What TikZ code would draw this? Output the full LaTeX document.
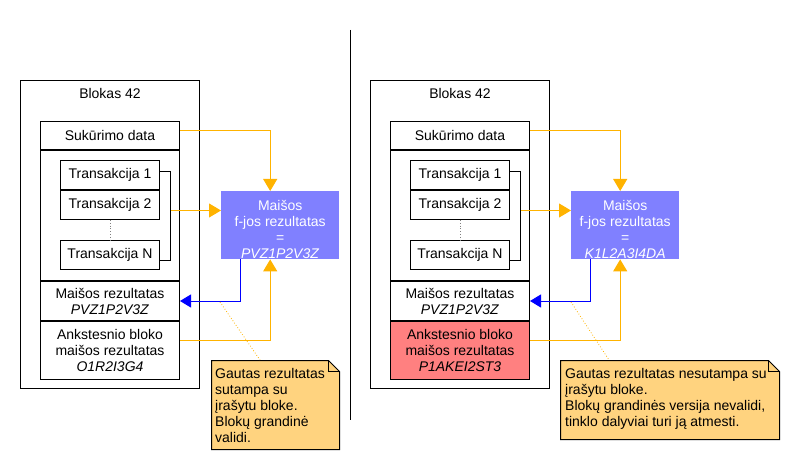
\documentclass[tikz,border=0pt]{standalone}
\usepackage{fontspec}
\setmainfont{Liberation Sans}
\usetikzlibrary{arrows.meta,calc,backgrounds}
\definecolor{oline}{HTML}{FFB300}
\definecolor{hashfill}{HTML}{8080FF}
\definecolor{notefill}{HTML}{FFD37F}
\definecolor{badfill}{HTML}{FF8080}
\newcommand{\toppad}{\rule{0pt}{18pt}}
\begin{document}
\begin{tikzpicture}[x=1pt,y=-1pt,
  font=\fontsize{14pt}{16pt}\selectfont,
  box/.style={draw, line width=1pt, fill=white, inner sep=0pt, anchor=north west, align=center},
  hashbox/.style={fill=hashfill, text=white, inner sep=0pt, anchor=north west, align=center},
  oarrow/.style={draw=oline, line width=1pt, -{Triangle[length=12pt,width=14pt]}},
  barrow/.style={draw=blue, line width=1pt, -{Triangle[length=11pt,width=13pt]}},
  bracket/.style={draw, line width=1pt},
  gapline/.style={draw=gray, line width=0.8pt, dotted},
  noteline/.style={draw=oline, line width=0.8pt, dotted},
  noteshape/.style={draw, line width=1pt, fill=notefill},
  notetext/.style={inner sep=0pt, anchor=north west, align=left},
  sep/.style={draw, line width=1pt}
]
\useasboundingbox (0,0) rectangle (800,470);

% separator
\coordinate (S1) at (350.5,30);
\coordinate (S2) at (350.5,420);
\draw[sep] (S1) -- (S2);

% ================= LEFT PANEL =================
\node[box, minimum width=179pt, minimum height=308pt] (LB) at (20,80) {};
\node (Ltitle) at (110,93) {Blokas 42};
\node[box, minimum width=139pt, minimum height=28pt] (LSuk) at (40,121) {Sukūrimo data};
\node[box, minimum width=139pt, minimum height=130pt] (LCon) at (40,150) {};
\node[box, minimum width=99pt, minimum height=29pt] (LT1) at (60,160) {Transakcija 1};
\node[box, minimum width=99pt, minimum height=29pt] (LT2) at (60,190) {Transakcija 2};
\node[box, minimum width=99pt, minimum height=29pt] (LTN) at (60,240) {Transakcija N};
\node[box, minimum width=139pt, minimum height=39pt] (LMai) at (40,281) {Maišos rezultatas\\\textit{PVZ1P2V3Z}};
\node[box, minimum width=139pt, minimum height=58pt] (LAnk) at (40,321) {Ankstesnio bloko\\maišos rezultatas\\\textit{O1R2I3G4}};
\node[hashbox, minimum width=118pt, minimum height=68pt] (LHash) at (221,191) {\toppad Maišos\\f-jos rezultatas\\=\\\textit{PVZ1P2V3Z}};

\draw[gapline] (LT2.south) -- (LTN.north);
\coordinate (LBr) at (170.5,210.5);
\draw[bracket] (LT1.east |- 0,171.5) -| (LBr) |- (LTN.east |- 0,260.5);
\draw[oarrow] (LBr) -- (LHash.west |- LBr);
\draw[oarrow] ([yshift=5pt]LSuk.east) -| ([xshift=-10pt]LHash.north);
\draw[oarrow] ([yshift=10pt]LAnk.east) -| ([xshift=-10pt]LHash.south);
\draw[barrow] ([xshift=-40pt]LHash.south) |- (LMai.east);

% note left
\coordinate (LNtl) at (211.5,360.5);
\coordinate (LNbr) at (339.5,449.5);
\draw[noteshape] (LNtl) -- ($(LNtl -| LNbr)+(-11,0)$) -- ($(LNtl -| LNbr)+(0,11)$) -- (LNbr) -- (LNtl |- LNbr) -- cycle;
\draw[line width=0.8pt] ($(LNtl -| LNbr)+(-11,0)$) -- ($(LNtl -| LNbr)+(-11,11)$) -- ($(LNtl -| LNbr)+(0,11)$);
\node[notetext] (LNote) at (215,368) {Gautas rezultatas\\sutampa su\\įrašytu bloke.\\Blokų grandinė\\validi.};
\coordinate (LDot) at (220,302);
\draw[noteline] (LDot) -- (260,360);

% ================= RIGHT PANEL =================
\node[box, minimum width=179pt, minimum height=308pt] (RB) at (370,80) {};
\node (Rtitle) at (460,93) {Blokas 42};
\node[box, minimum width=139pt, minimum height=28pt] (RSuk) at (390,121) {Sukūrimo data};
\node[box, minimum width=139pt, minimum height=130pt] (RCon) at (390,150) {};
\node[box, minimum width=99pt, minimum height=29pt] (RT1) at (410,160) {Transakcija 1};
\node[box, minimum width=99pt, minimum height=29pt] (RT2) at (410,190) {Transakcija 2};
\node[box, minimum width=99pt, minimum height=29pt] (RTN) at (410,240) {Transakcija N};
\node[box, minimum width=139pt, minimum height=39pt] (RMai) at (390,281) {Maišos rezultatas\\\textit{PVZ1P2V3Z}};
\node[box, fill=badfill, minimum width=139pt, minimum height=58pt] (RAnk) at (390,321) {Ankstesnio bloko\\maišos rezultatas\\\textit{P1AKEI2ST3}};
\node[hashbox, minimum width=108pt, minimum height=68pt] (RHash) at (571,191) {\toppad Maišos\\f-jos rezultatas\\=\\\textit{K1L2A3I4DA}};

\draw[gapline] (RT2.south) -- (RTN.north);
\coordinate (RBr) at (520.5,210.5);
\draw[bracket] (RT1.east |- 0,171.5) -| (RBr) |- (RTN.east |- 0,260.5);
\draw[oarrow] (RBr) -- (RHash.west |- RBr);
\draw[oarrow] ([yshift=5pt]RSuk.east) -| ([xshift=-5pt]RHash.north);
\draw[oarrow] ([yshift=10pt]RAnk.east) -| ([xshift=-5pt]RHash.south);
\draw[barrow] ([xshift=-35pt]RHash.south) |- (RMai.east);

% note right
\coordinate (RNtl) at (560.5,360.5);
\coordinate (RNbr) at (779.5,439.5);
\draw[noteshape] (RNtl) -- ($(RNtl -| RNbr)+(-11,0)$) -- ($(RNtl -| RNbr)+(0,11)$) -- (RNbr) -- (RNtl |- RNbr) -- cycle;
\draw[line width=0.8pt] ($(RNtl -| RNbr)+(-11,0)$) -- ($(RNtl -| RNbr)+(-11,11)$) -- ($(RNtl -| RNbr)+(0,11)$);
\node[notetext] (RNote) at (565,368) {Gautas rezultatas nesutampa su\\įrašytu bloke.\\Blokų grandinės versija nevalidi,\\tinklo dalyviai turi ją atmesti.};
\coordinate (RDot) at (571,302);
\draw[noteline] (RDot) -- (609,360);
\end{tikzpicture}
\end{document}
